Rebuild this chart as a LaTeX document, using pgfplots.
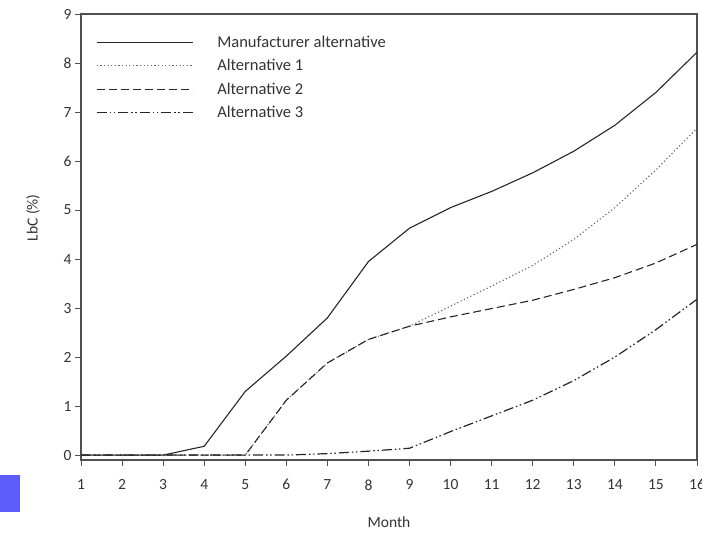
\documentclass[border=0pt]{standalone}
\usepackage{pgfplots}
\pgfplotsset{compat=1.18}
\usepackage{fontspec}
\setmainfont{Carlito}
\definecolor{axgray}{HTML}{505050}
\definecolor{txtgray}{HTML}{333333}
\definecolor{slideblue}{HTML}{5C5CF8}
\begin{document}
\begin{tikzpicture}[x=1pt,y=1pt]
\path[use as bounding box] (0,0) rectangle (702,533);
\fill[slideblue] (0,21) rectangle (20,58);
\begin{axis}[
  at={(81pt,73pt)}, anchor=south west,
  scale only axis, width=616pt, height=446pt,
  xmin=1, xmax=16, ymin=-0.1, ymax=9,
  xtick={1,...,16}, ytick={0,...,9},
  tick align=outside, xtick pos=bottom, ytick pos=left,
  major tick length=6pt,
  axis line style={axgray, line width=1.1pt},
  every tick/.style={axgray, line width=1pt},
  tick label style={font=\fontsize{15.5}{17}\selectfont, text=txtgray},
  /pgf/number format/assume math mode=true,
  xticklabel style={yshift=-10pt},
  xlabel={Month}, ylabel={LbC (\%)},
  label style={font=\fontsize{15.5}{17}\selectfont, text=txtgray},
  xlabel style={at={(axis description cs:0.5,-0.139)}, anchor=center},
  ylabel style={at={(axis description cs:-0.078,0.543)}, anchor=center},
  legend style={at={(axis description cs:0,1)}, anchor=north west, xshift=12pt, yshift=-17pt,
    draw=none, fill=none, font=\fontsize{16.5}{19}\selectfont, text=txtgray,
    row sep=5.5pt, nodes={inner sep=2.5pt}},
  legend cell align=left,
  legend image code/.code={\draw[#1] (0pt,0pt) -- (96pt,0pt); \path[draw=none,fill=none] (0pt,0pt) -- (118pt,0pt);},
]
\addplot[black!85, line width=1.1pt] coordinates {
(1,0)(2,0)(3,0)(4,0.18)(5,1.3)(6,2.02)(7,2.8)(8,3.95)(9,4.63)(10,5.05)(11,5.38)(12,5.76)(13,6.2)(14,6.73)(15,7.4)(16,8.22)};
\addlegendentry{Manufacturer alternative}
\addplot[black!60, line width=1.1pt, dash pattern=on 1.2pt off 2.4pt] coordinates {
(1,0)(2,0)(3,0)(4,0)(5,0)(6,1.12)(7,1.88)(8,2.36)(9,2.63)(10,3.04)(11,3.45)(12,3.87)(13,4.4)(14,5.05)(15,5.82)(16,6.67)};
\addlegendentry{Alternative 1}
\addplot[black!85, line width=1.1pt, dash pattern=on 8pt off 4pt] coordinates {
(1,0)(2,0)(3,0)(4,0)(5,0)(6,1.12)(7,1.88)(8,2.36)(9,2.63)(10,2.82)(11,2.99)(12,3.16)(13,3.38)(14,3.62)(15,3.92)(16,4.3)};
\addlegendentry{Alternative 2}
\addplot[black!85, line width=1.2pt, dash pattern=on 10pt off 3pt on 1.5pt off 2.5pt on 1.5pt off 3pt] coordinates {
(1,0)(2,0)(3,0)(4,0)(5,0)(6,0)(7,0.03)(8,0.08)(9,0.14)(10,0.48)(11,0.8)(12,1.12)(13,1.52)(14,2.0)(15,2.56)(16,3.18)};
\addlegendentry{Alternative 3}
\end{axis}
\end{tikzpicture}
\end{document}
